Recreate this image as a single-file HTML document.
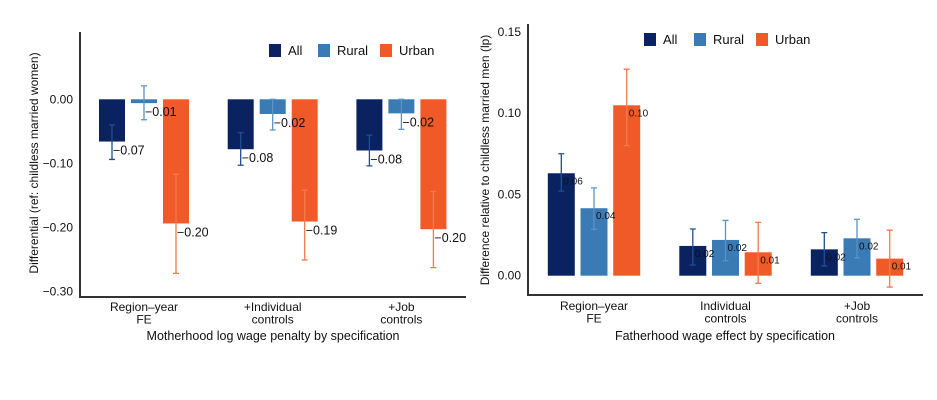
<!DOCTYPE html>
<html><head><meta charset="utf-8"><style>
html,body{margin:0;padding:0;background:#fff;}
svg{display:block;font-family:"Liberation Sans",sans-serif;}
</style></head><body>
<svg id="chart" width="937" height="400" viewBox="0 0 937 400"></svg>
<script>
const groupsL = ["Region\u2013year|FE", "+Individual|controls", "+Job|controls"];
const allL = [-0.066, -0.078, -0.080];
const ruralL = [-0.006, -0.023, -0.022];
const urbanL = [-0.194, -0.191, -0.203];
const allLoL = [-0.094, -0.103, -0.104];
const allHiL = [-0.040, -0.052, -0.056];
const ruralLoL = [-0.032, -0.048, -0.047];
const ruralHiL = [0.021, 0.000, 0.000];
const urbanLoL = [-0.272, -0.251, -0.263];
const urbanHiL = [-0.117, -0.142, -0.144];
const labelsAllL = ["\u22120.07", "\u22120.08", "\u22120.08"];
const labelsRuralL = ["\u22120.01", "\u22120.02", "\u22120.02"];
const labelsUrbanL = ["\u22120.20", "\u22120.19", "\u22120.20"];
const ticksL = [0, -0.1, -0.2, -0.3];
const tickLabelsL = ["0.00", "\u22120.10", "\u22120.20", "\u22120.30"];

const groupsR = ["Region\u2013year|FE", "Individual|controls", "+Job|controls"];
const allR = [0.063, 0.0183, 0.0162];
const ruralR = [0.0415, 0.022, 0.023];
const urbanR = [0.1048, 0.0144, 0.0105];
const allLoR = [0.052, 0.0066, 0.006];
const allHiR = [0.075, 0.0287, 0.0265];
const ruralLoR = [0.0285, 0.0092, 0.011];
const ruralHiR = [0.054, 0.034, 0.0347];
const urbanLoR = [0.080, -0.0047, -0.007];
const urbanHiR = [0.127, 0.0328, 0.028];
const labelsAllR = ["0.06", "0.02", "0.02"];
const labelsRuralR = ["0.04", "0.02", "0.02"];
const labelsUrbanR = ["0.10", "0.01", "0.01"];
const ticksR = [0, 0.05, 0.1, 0.15];
const tickLabelsR = ["0.00", "0.05", "0.10", "0.15"];

const NS = "http://www.w3.org/2000/svg";
const svg = document.getElementById("chart");
function mk(tag, attrs, parent, text) {
  const e = document.createElementNS(NS, tag);
  for (const k in attrs) e.setAttribute(k, attrs[k]);
  if (text !== undefined) e.textContent = text;
  (parent || svg).appendChild(e);
  return e;
}
const COL = ["#0b2260", "#3a7ab5", "#f05a28"];
const ECOL = ["#1f4f8f", "#5a93c8", "#f47a4e"];
const SER = ["all", "rural", "urban"];
const NAMES = ["All", "Rural", "Urban"];

function drawChart(cfg) {
  const g = mk("g", {});
  
  
  const y = v => cfg.y0 + (0 - v) * cfg.scale;
  const gx = i => cfg.gx0 + i * cfg.gstep;
  const ax = mk("line", {x1: cfg.axX, y1: cfg.axTop, x2: cfg.axX, y2: cfg.axBot + 1, stroke: "#333", "stroke-width": 2}, g);
  
  
  const bx = mk("line", {x1: cfg.axX - 1, y1: cfg.axBot, x2: cfg.axRight, y2: cfg.axBot, stroke: "#333", "stroke-width": 2}, g);
  
  
  cfg.ticks.forEach((t, i) => {
    const tl = mk("text", {x: cfg.axX - 7, y: y(t) + 4, "text-anchor": "end", "font-size": 12, fill: "#111"}, g, cfg.tickLabels[i]);
    
    
  });
  const series = [cfg.all, cfg.rural, cfg.urban];
  const lo = [cfg.allLo, cfg.ruralLo, cfg.urbanLo];
  const hi = [cfg.allHi, cfg.ruralHi, cfg.urbanHi];
  const labs = [cfg.labAll, cfg.labRural, cfg.labUrban];
  const gBars = mk("g", {}, g), gErr = mk("g", {}, g), gLab = mk("g", {}, g);
  cfg.groups.forEach((grp, i) => {
    const c = gx(i);
    for (let s = 0; s < 3; s++) {
      const v = series[s][i];
      const xc = c + (s - 1) * cfg.step;
      const x0 = xc - cfg.bw / 2;
      const top = Math.min(y(0), y(v)), h = Math.abs(y(v) - y(0));
      const r = mk("rect", {x: x0, y: top, width: cfg.bw, height: Math.max(h, 1), fill: COL[s]}, gBars);
      
      
      const ylo = y(lo[s][i]), yhi = y(hi[s][i]);
      const e = mk("path", {d: `M${xc},${yhi}V${ylo}M${xc - 3},${yhi}H${xc + 3}M${xc - 3},${ylo}H${xc + 3}`, stroke: ECOL[s], "stroke-width": 1.3, fill: "none"}, gErr);
      
      
      const ly = y(v) + (v < 0 ? cfg.labOffNeg : cfg.labOffPos);
      const t = mk("text", {x: xc + cfg.labDx, y: ly, "font-size": cfg.labSize, fill: "#111"}, gLab, labs[s][i]);
      
      
    }
    const parts = grp.split("|");
    parts.forEach((p, k) => {
      const xl = mk("text", {x: c, y: cfg.xlY + k * 12.5, "text-anchor": "middle", "font-size": 12, fill: "#111"}, g, p);
      
      
    });
  });
  const xt = mk("text", {x: cfg.titleX, y: cfg.titleY, "text-anchor": "middle", "font-size": 12.5, fill: "#111"}, g, cfg.xTitle);
  
  
  const yt = mk("text", {x: 0, y: 0, "text-anchor": "middle", "font-size": 12, fill: "#111", transform: `translate(${cfg.yTitleX},${cfg.yTitleY}) rotate(-90)`}, g, cfg.yTitle);
  
  
  cfg.legX.forEach((lx, s) => {
    const lg = mk("g", {}, g);
    
    
    mk("rect", {x: lx, y: cfg.legY, width: 12, height: 13, fill: COL[s]}, lg);
    mk("text", {x: lx + 19, y: cfg.legY + 11, "font-size": 13, fill: "#111"}, lg, NAMES[s]);
  });
}

drawChart({name: "motherhood-chart", y0: 99.3, scale: 640, gx0: 144, gstep: 128.7, step: 32, bw: 26,
  axX: 80, axTop: 32, axBot: 297, axRight: 466,
  ticks: ticksL, tickLabels: tickLabelsL, groups: groupsL,
  all: allL, rural: ruralL, urban: urbanL, allLo: allLoL, allHi: allHiL, ruralLo: ruralLoL, ruralHi: ruralHiL, urbanLo: urbanLoL, urbanHi: urbanHiL,
  labAll: labelsAllL, labRural: labelsRuralL, labUrban: labelsUrbanL,
  labDx: 1, labOffNeg: 13, labOffPos: 13, labSize: 12.5,
  xlY: 311, titleX: 273, titleY: 340, xTitle: "Motherhood log wage penalty by specification",
  yTitleX: 38, yTitleY: 163, yTitle: "Differential (ref: childless married women)",
  legX: [269, 318, 380], legY: 44});

drawChart({name: "fatherhood-chart", y0: 275.7, scale: 1626, gx0: 594, gstep: 131.5, step: 32.7, bw: 27,
  axX: 528, axTop: 24, axBot: 295, axRight: 923,
  ticks: ticksR, tickLabels: tickLabelsR, groups: groupsR,
  all: allR, rural: ruralR, urban: urbanR, allLo: allLoR, allHi: allHiR, ruralLo: ruralLoR, ruralHi: ruralHiR, urbanLo: urbanLoR, urbanHi: urbanHiR,
  labAll: labelsAllR, labRural: labelsRuralR, labUrban: labelsUrbanR,
  labDx: 2, labOffNeg: 11, labOffPos: 11, labSize: 10,
  xlY: 310, titleX: 725, titleY: 340, xTitle: "Fatherhood wage effect by specification",
  yTitleX: 489, yTitleY: 160, yTitle: "Difference relative to childless married men (lp)",
  legX: [644, 694, 756], legY: 33});
</script>
</body></html>
